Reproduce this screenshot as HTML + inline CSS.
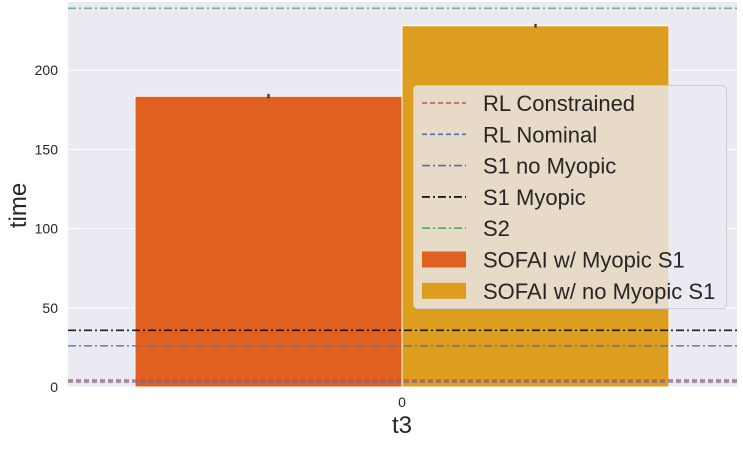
<!DOCTYPE html>
<html><head><meta charset="utf-8"><style>
body{margin:0;background:#fff;width:743px;height:445px;overflow:hidden;font-family:"Liberation Sans",sans-serif}
svg text{font-family:"Liberation Sans",sans-serif;fill:#262626}
</style></head><body>
<svg id="chart" width="743" height="445"></svg>
<script>
const categories=["t3"];
const barLabels=["SOFAI w/ Myopic S1","SOFAI w/ no Myopic S1"];
const barValues=[183.5,228];
const barErrors=[1.5,1.2];
const barColors=["#e06020","#dd9e20"];
const lineLabels=["RL Constrained","RL Nominal","S1 no Myopic","S1 Myopic","S2"];
const lineValues=[4.4,3.2,26,35.8,239];
const lineColors=["#c44e52","#4c72b0","#4c72b0","#000000","#55a868"];
const lineDash=["5,3","5,3","8,3,2,3","8,3,2,3","8,3,2,3"];
const yTicks=[0,50,100,150,200];

const NS="http://www.w3.org/2000/svg";
const svg=document.getElementById('chart');
const L=68,R=737,T=2,B=387;
const y=v=>B-v*(B-T)/243;
const catLeft=L+67, catW=534;
function el(t,a,p){const e=document.createElementNS(NS,t);for(const k in a)e.setAttribute(k,a[k]);(p||svg).appendChild(e);return e;}
const bg=el('rect',{x:L,y:T,width:R-L,height:B-T,fill:'#eaeaf2'});


yTicks.forEach(t=>{
 const g=el('line',{x1:L,x2:R,y1:y(t),y2:y(t),stroke:'#fff','stroke-width':1});
 
 
 const tx=el('text',{x:L-10,y:y(t)+5,'text-anchor':'end','font-size':14});
 tx.textContent=t;
 
 
});
const bw=catW/barValues.length;
barValues.forEach((v,i)=>{
 const x0=catLeft+i*bw;
 const r=el('rect',{x:x0,y:y(v),width:bw,height:B-y(v),fill:barColors[i],stroke:'#fff','stroke-width':1});
 
 
 const e=el('line',{x1:x0+bw/2,x2:x0+bw/2,y1:y(v-barErrors[i]),y2:y(v+barErrors[i]),stroke:'#444','stroke-width':2.5});
 
 
});
lineValues.forEach((v,i)=>{
 const l=el('line',{x1:L,x2:R,y1:y(v),y2:y(v),stroke:lineColors[i],'stroke-width':1.6,'stroke-dasharray':lineDash[i],opacity:i==3?0.85:0.8});
 
 
});
categories.forEach((c,i)=>{
 const cx=catLeft+catW/2;
 const t=el('text',{x:cx,y:B+20,'text-anchor':'middle','font-size':14});
 t.textContent=i;
 
 
 const xt=el('text',{x:cx,y:433,'text-anchor':'middle','font-size':24});
 xt.textContent=c;
 
 
});
const yt=el('text',{x:26,y:B/2+12,'text-anchor':'middle','font-size':24,transform:'rotate(-90 26 '+(B/2+12)+')'});
yt.textContent='time';


// legend
const lg=el('g',{});


el('rect',{x:413.5,y:85.5,width:313,height:223,rx:4,fill:'#eaeaf2','fill-opacity':0.8,stroke:'#ccc'},lg);
const items=lineLabels.length+barLabels.length;
for(let k=0;k<items;k++){
 const yy=103+k*31.3;
 let label;
 if(k<lineLabels.length){
  el('line',{x1:422,x2:466,y1:yy,y2:yy,stroke:lineColors[k],'stroke-width':1.6,'stroke-dasharray':lineDash[k]},lg);
  label=lineLabels[k];
 } else {
  const j=k-lineLabels.length;
  el('rect',{x:422,y:yy-8,width:44,height:16,fill:barColors[j]},lg);
  label=barLabels[j];
 }
 const t=el('text',{x:483,y:yy+8,'font-size':22},lg);
 t.textContent=label;
 
 
}
</script>
</body></html>
